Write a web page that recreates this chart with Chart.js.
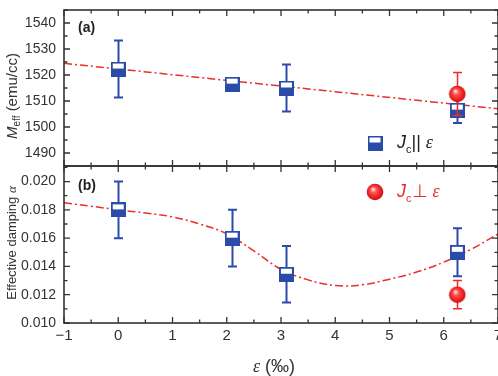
<!DOCTYPE html>
<html>
<head>
<meta charset="utf-8">
<script src="https://cdn.jsdelivr.net/npm/chart.js@4.4.1/dist/chart.umd.min.js"></script>
<style>
  html, body { margin: 0; padding: 0; background: #fff; }
  #wrap { position: relative; width: 498px; height: 376px; overflow: hidden; font-family: "Liberation Sans", Arial, sans-serif; color: #333; }
  #boxA { position: absolute; left: 0; top: 0; width: 498px; height: 170px; }
  #boxB { position: absolute; left: 0; top: 160px; width: 498px; height: 216px; }
  .lbl { position: absolute; white-space: nowrap; line-height: 1; }
  .rot { transform-origin: center center; transform: translate(-50%, -50%) rotate(-90deg); }
  .panel { font-weight: bold; font-size: 14px; color: #222; }
  .leg { font-size: 18px; }
  .leg i { font-style: italic; }
  .leg sub { font-size: 11px; vertical-align: -5px; font-style: normal; }
  .eps { font-family: "Liberation Serif", "DejaVu Serif", serif; font-style: italic; }
</style>
</head>
<body>
<div id="wrap">
  <div id="boxA"><canvas id="chartA" width="498" height="170"></canvas></div>
  <div id="boxB"><canvas id="chartB" width="498" height="216"></canvas></div>

  <div class="lbl panel" style="left:78px;top:20px;">(a)</div>
  <div class="lbl panel" style="left:78px;top:178px;">(b)</div>

  <div class="lbl leg" style="left:397px;top:133px;color:#222;"><i>J</i><sub>c</sub>|| <span class="eps">ε</span></div>
  <div class="lbl leg" style="left:397px;top:182px;color:#ee2a2a;"><i>J</i><sub>c</sub>⊥ <span class="eps">ε</span></div>

  <div class="lbl rot" style="left:13px;top:96px;font-size:15px;"><i>M</i><sub style="font-size:10px;vertical-align:-3px;">eff</sub> (emu/cc)</div>
  <div class="lbl rot" style="left:11px;top:243px;font-size:13px;">Effective damping <span class="eps">α</span></div>

  <div class="lbl" style="left:253px;top:357px;font-size:18px;"><span class="eps">ε</span> (‰)</div>
</div>

<script>
// strain (per mille) of the samples
const strainBlue = [0, 2.1, 3.1, 6.25];
const strainRed = [6.25];

// panel (a): effective magnetisation, emu/cc
const meffBlue = [1522.3, 1516.5, 1515, 1506.5];
const meffBlueErr = [11, 2.3, 9, 5];
const meffRed = [1512.7];
const meffRedErr = [8.3];
const fitAx = [-1, 7];
const fitAy = [1524.5, 1507];

// panel (b): effective damping
const dampBlue = [0.0180, 0.0160, 0.01345, 0.0150];
const dampBlueErr = [0.002, 0.002, 0.002, 0.0017];
const dampRed = [0.0120];
const dampRedErr = [0.001];
const fitBx = [-1, -0.5, 0, 0.5, 1, 1.5, 2, 2.5, 3, 3.5, 4, 4.5, 5, 5.5, 6, 6.5, 7];
const fitBy = [0.0185, 0.01826, 0.0180, 0.01778, 0.0175, 0.0170, 0.0163, 0.0151, 0.0138, 0.01305, 0.01265, 0.0127, 0.0131, 0.0136, 0.0143, 0.0152, 0.0163];

// tick labels
const strainTicks = [-1, 0, 1, 2, 3, 4, 5, 6, 7];
const meffTicks = [1490, 1500, 1510, 1520, 1530, 1540];
const dampTicks = [0.010, 0.012, 0.014, 0.016, 0.018, 0.020];

const BLUE = "#2a4ca8";
const RED = "#ee2a2a";
const AXIS = "#333";

function pts(xs, ys) { return xs.map((x, i) => ({ x, y: ys[i] })); }

// half filled square marker
function squareMarker() {
  const c = document.createElement("canvas");
  c.width = 15; c.height = 15;
  const g = c.getContext("2d");
  g.fillStyle = "#fff"; g.fillRect(1, 1, 13, 13);
  g.fillStyle = BLUE; g.fillRect(1, 7, 13, 7);
  g.strokeStyle = BLUE; g.lineWidth = 2; g.strokeRect(1, 1, 13, 13);
  return c;
}

// shaded red ball
function ballMarker() {
  const c = document.createElement("canvas");
  c.width = 18; c.height = 18;
  const g = c.getContext("2d");
  const grad = g.createRadialGradient(7, 6, 0.5, 9, 9, 9);
  grad.addColorStop(0, "#ffe0e0");
  grad.addColorStop(0.3, "#ff5050");
  grad.addColorStop(0.8, "#e31616");
  grad.addColorStop(1, "#c40c0c");
  g.fillStyle = grad;
  g.beginPath(); g.arc(9, 9, 8.3, 0, Math.PI * 2); g.fill();
  return c;
}

const sq = squareMarker();
const ball = ballMarker();

function makeDecor(cfg) {
  return {
    id: "decor",
    beforeDatasetDraw(chart, args) {
      const ds = chart.data.datasets[args.index];
      if (!ds.err) return;
      const { ctx, scales: { x, y } } = chart;
      ctx.save();
      ctx.strokeStyle = ds.errColor;
      ctx.lineWidth = ds.errWidth;
      ds.data.forEach((p, i) => {
        const px = Math.round(x.getPixelForValue(p.x)) + 0.5;
        const y1 = y.getPixelForValue(p.y - ds.err[i]);
        const y2 = y.getPixelForValue(p.y + ds.err[i]);
        ctx.beginPath();
        ctx.moveTo(px, y1); ctx.lineTo(px, y2);
        ctx.moveTo(px - 4.5, y1); ctx.lineTo(px + 4.5, y1);
        ctx.moveTo(px - 4.5, y2); ctx.lineTo(px + 4.5, y2);
        ctx.stroke();
      });
      ctx.restore();
    },
    afterDraw(chart) {
      const { ctx, chartArea: a, scales: { x, y } } = chart;
      ctx.save();
      ctx.strokeStyle = AXIS;
      ctx.lineWidth = 1.6;
      ctx.strokeRect(a.left, a.top, a.right - a.left, a.bottom - a.top);
      ctx.lineWidth = 1.3;
      const majX = x.ticks.map(t => t.value);
      const majY = y.ticks.map(t => t.value);
      const minor = (arr, step) => {
        const out = arr.map(v => v - step / 2);
        out.push(arr[arr.length - 1] + step / 2);
        return out;
      };
      const minX = minor(majX, 1);
      const minY = minor(majY, cfg.yStep);
      ctx.beginPath();
      const xt = (vals, len) => vals.forEach(v => {
        const px = x.getPixelForValue(v);
        if (px < a.left - 0.5 || px > a.right + 0.5) return;
        ctx.moveTo(px, a.top); ctx.lineTo(px, a.top + len);
        ctx.moveTo(px, a.bottom); ctx.lineTo(px, a.bottom - len);
      });
      const yt = (vals, len) => vals.forEach(v => {
        const py = y.getPixelForValue(v);
        if (py < a.top - 0.5 || py > a.bottom + 0.5) return;
        ctx.moveTo(a.left, py); ctx.lineTo(a.left + len, py);
        ctx.moveTo(a.right, py); ctx.lineTo(a.right - len, py);
      });
      xt(majX, 6); xt(minX, 3.5);
      yt(majY, 6); yt(minY, 3.5);
      ctx.stroke();
      if (cfg.legend) {
        const img = cfg.legend.img;
        ctx.drawImage(img, cfg.legend.x - img.width / 2, cfg.legend.y - img.height / 2);
      }
      ctx.restore();
    }
  };
}

function noPad(s) { s.paddingLeft = 0; s.paddingRight = 0; s.paddingTop = 0; s.paddingBottom = 0; }

const xScale = (showLabels) => ({
  type: "linear", min: -1, max: 7,
  display: true,
  grid: { display: false, drawTicks: false },
  border: { display: false },
  afterBuildTicks: s => { s.ticks = strainTicks.map(value => ({ value })); },
  ticks: {
    display: showLabels, padding: 4, color: AXIS,
    font: { family: "Liberation Sans, Arial", size: 15 },
    callback: v => (v < 0 ? "\u2212" + Math.abs(v) : String(v))
  },
  afterFit: s => { s.height = showLabels ? 53 : 0; noPad(s); }
});

const yScale = (min, max, tickVals, digits) => ({
  type: "linear", min, max,
  grid: { display: false, drawTicks: false },
  border: { display: false },
  afterBuildTicks: s => { s.ticks = tickVals.map(value => ({ value })); },
  ticks: {
    padding: 8, color: AXIS,
    font: { family: "Liberation Sans, Arial", size: 14 },
    callback: v => v.toFixed(digits)
  },
  afterFit: s => { s.width = 64; noPad(s); }
});

const common = {
  responsive: false,
  animation: false,
  events: [],
  plugins: { legend: { display: false }, tooltip: { enabled: false } }
};

new Chart(document.getElementById("chartA"), {
  type: "scatter",
  data: {
    datasets: [
      { type: "line", data: pts(fitAx, fitAy), borderColor: "#e8302a", borderWidth: 1.5,
        borderDash: [8, 3, 2, 3], pointRadius: 0, fill: false, order: 3 },
      { data: pts(strainBlue, meffBlue), err: meffBlueErr, errColor: BLUE, errWidth: 2,
        pointStyle: sq, order: 2 },
      { data: pts(strainRed, meffRed), err: meffRedErr, errColor: RED, errWidth: 1.5,
        pointStyle: ball, order: 1 }
    ]
  },
  options: {
    ...common,
    layout: { autoPadding: false, padding: { top: 10, bottom: 4, left: 0, right: 0 } },
    scales: { x: xScale(false), y: yScale(1485, 1545, meffTicks, 0) }
  },
  plugins: [makeDecor({ yStep: 10, legend: { img: sq, x: 375, y: 143 } })]
});

new Chart(document.getElementById("chartB"), {
  type: "scatter",
  data: {
    datasets: [
      { type: "line", data: pts(fitBx, fitBy), borderColor: "#e8302a", borderWidth: 1.5,
        borderDash: [8, 3, 2, 3], pointRadius: 0, fill: false, tension: 0.4, order: 3 },
      { data: pts(strainBlue, dampBlue), err: dampBlueErr, errColor: BLUE, errWidth: 2,
        pointStyle: sq, order: 2 },
      { data: pts(strainRed, dampRed), err: dampRedErr, errColor: RED, errWidth: 1.5,
        pointStyle: ball, order: 1 }
    ]
  },
  options: {
    ...common,
    layout: { autoPadding: false, padding: { top: 6, bottom: 0, left: 0, right: 0 } },
    scales: { x: xScale(true), y: yScale(0.010, 0.0211, dampTicks, 3) }
  },
  plugins: [makeDecor({ yStep: 0.002, legend: { img: ball, x: 375, y: 32 } })]
});
</script>
</body>
</html>
